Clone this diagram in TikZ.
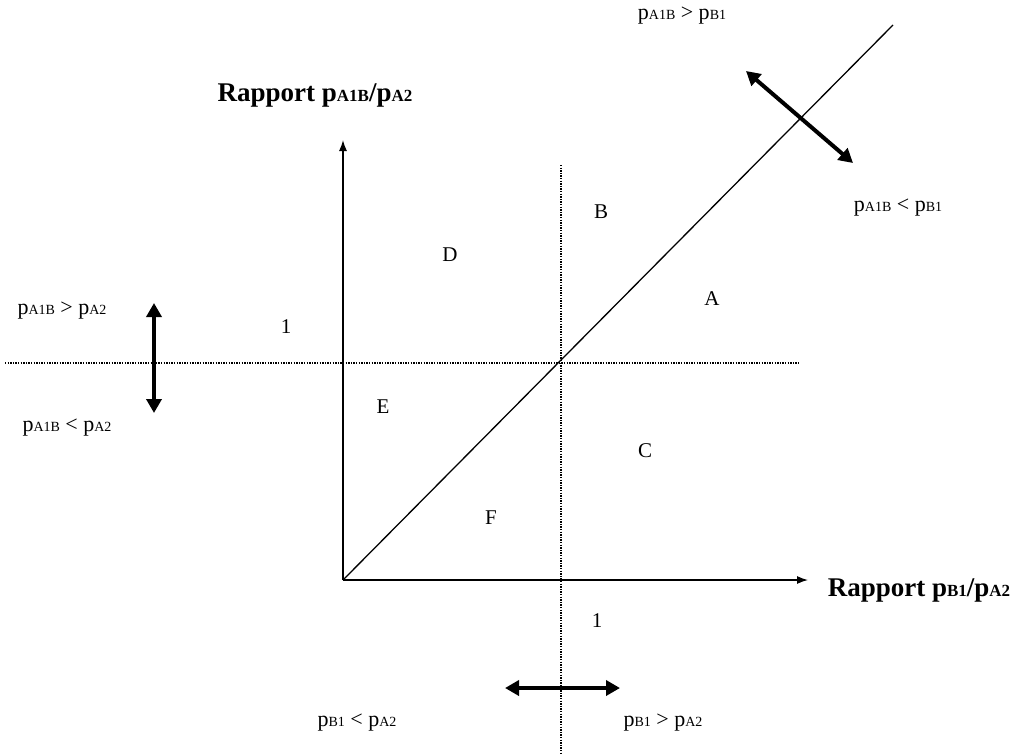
\documentclass[tikz,border=0pt]{standalone}
\usepackage{fontspec}
\setmainfont{Liberation Serif}
\usetikzlibrary{arrows.meta}
\newcommand\lsub[1]{{\fontsize{14}{14}\selectfont #1}}
\newcommand\bsub[1]{{\fontsize{17}{17}\selectfont #1}}
\begin{document}
\begin{tikzpicture}[x=1pt,y=-1pt,
  axis/.style={line width=1.3pt,-{Latex[length=11pt,width=8pt]}},
  dotline/.style={line width=1.3pt,dash pattern=on 1.3pt off 1.3pt},
  thick2/.style={line width=4pt,{Triangle[length=14pt,width=15pt]}-{Triangle[length=14pt,width=15pt]}},
  lbl/.style={font=\fontsize{22}{22}\selectfont,inner sep=0pt},
  reg/.style={font=\fontsize{21}{21}\selectfont,inner sep=0pt},
  ttl/.style={font=\fontsize{27}{27}\selectfont\bfseries,inner sep=0pt}]
\useasboundingbox (0,0) rectangle (1022,753);
% coordinates
\coordinate (O) at (343,580);
\coordinate (Ytop) at (343,140);
\coordinate (Xend) at (808,580);
\coordinate (Dend) at (893,25);
\coordinate (Vtop) at (561,165);
\coordinate (Vbot) at (561,753);
\coordinate (Hl) at (5,363);
\coordinate (Hr) at (800,363);
\coordinate (da1) at (746,71);
\coordinate (da2) at (853,163);
\coordinate (va1) at (154,303);
\coordinate (va2) at (154,413);
\coordinate (ha1) at (505,688);
\coordinate (ha2) at (620,688);
% lines
\draw[dotline] (Vtop) -- (Vbot);
\draw[dotline] (Hl) -- (Hr);
\draw[axis] (O) -- (Ytop);
\draw[axis] (O) -- (Xend);
\draw[line width=1.3pt] (O) -- (Dend);
\draw[thick2] (da1) -- (da2);
\draw[thick2] (va1) -- (va2);
\draw[thick2] (ha1) -- (ha2);
% titles
\node[ttl] (ty) at (315,95) {Rapport p\bsub{A1B}/p\bsub{A2}};
\node[ttl] (tx) at (919,590) {Rapport p\bsub{B1}/p\bsub{A2}};
% labels
\node[lbl] (l1) at (682,16) {p\lsub{A1B} > p\lsub{B1}};
\node[lbl] (l2) at (898,208) {p\lsub{A1B} < p\lsub{B1}};
\node[lbl] (l3) at (62,311) {p\lsub{A1B} > p\lsub{A2}};
\node[lbl] (l4) at (67,428) {p\lsub{A1B} < p\lsub{A2}};
\node[lbl] (l5) at (357,723) {p\lsub{B1} < p\lsub{A2}};
\node[lbl] (l6) at (663,723) {p\lsub{B1} > p\lsub{A2}};
\node[reg] (one1) at (286,327) {1};
\node[reg] (one2) at (597,621) {1};
% regions
\node[reg] (rA) at (712,299) {A};
\node[reg] (rB) at (601,212) {B};
\node[reg] (rC) at (645,451) {C};
\node[reg] (rD) at (450,255) {D};
\node[reg] (rE) at (383,407) {E};
\node[reg] (rF) at (491,518) {F};
\end{tikzpicture}
\end{document}
